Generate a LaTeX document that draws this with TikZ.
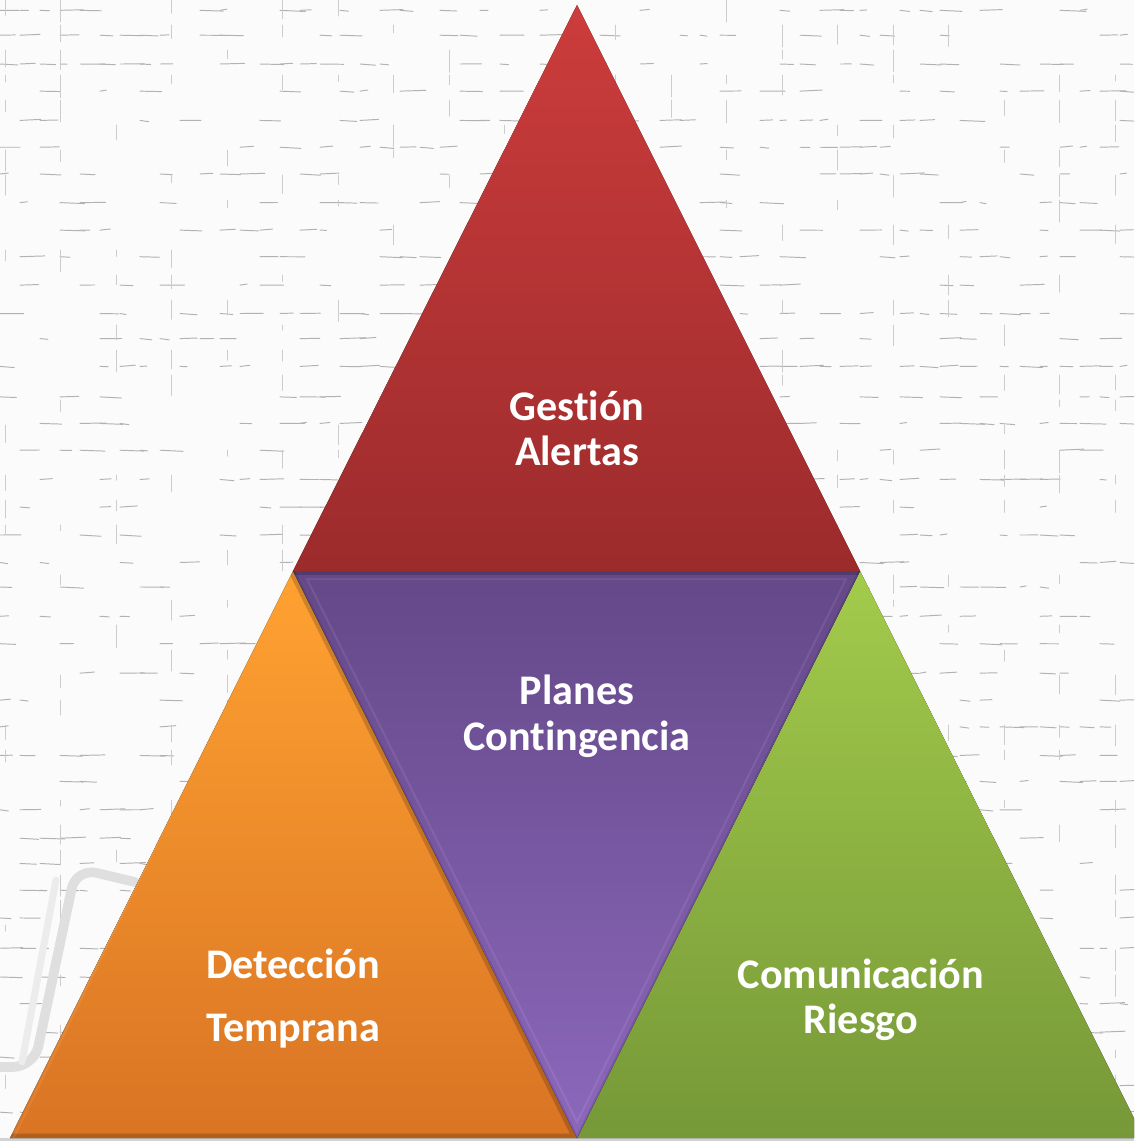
\documentclass[tikz,border=0pt]{standalone}
\usepackage{fontspec}
\setmainfont{Carlito}[Ligatures=NoCommon]
\usetikzlibrary{calc}
\begin{document}
\begin{tikzpicture}[x=0.02cm,y=-0.02cm,
  texline/.style={draw=gray!60,line width=0.55pt,line cap=round},
  texvline/.style={draw=gray!40,line width=0.45pt,line cap=round},
  label/.style={text=white,font=\fontsize{24}{28}\selectfont\bfseries,anchor=base,inner sep=0pt},
  bevel/.style={line width=5pt,draw=black,opacity=0.18},
  shine/.style={line width=1.2pt,draw=white,opacity=0.08}]
\definecolor{redtop}{HTML}{CC3C3C}
\definecolor{redbot}{HTML}{9C2B2C}
\definecolor{purtop}{HTML}{644888}
\definecolor{purbot}{HTML}{8C68BC}
\definecolor{orgtop}{HTML}{FFA231}
\definecolor{orgbot}{HTML}{D97424}
\definecolor{grntop}{HTML}{A3CB4B}
\definecolor{grnbot}{HTML}{769838}
\useasboundingbox (0,0) rectangle (1134,1141);
\clip (0,0) rectangle (1134,1141);
% paper background
\fill[white!97!gray] (0,0) rectangle (1134,1141);
\pgfmathsetseed{17}
% woven texture: broken horizontal strokes
\foreach \r in {0,...,41} {
  \pgfmathsetmacro\yy{7+27.6*\r+4*rnd}
  \foreach \c in {0,...,57} {
    \pgfmathsetmacro\p{rnd}
    \ifdim\p pt<0.45pt
      \pgfmathsetmacro\len{6+rnd*20}
      \draw[texline] (\c*20,\yy) -- ++(\len,{(rnd-0.5)*2.5});
    \fi
  }
}
% woven texture: faint vertical strokes
\foreach \k in {0,...,20} {
  \pgfmathsetmacro\xx{5+55.5*\k}
  \foreach \c in {0,...,45} {
    \pgfmathsetmacro\p{rnd}
    \ifdim\p pt<0.35pt
      \pgfmathsetmacro\len{5+rnd*18}
      \draw[texvline] (\xx,\c*25) -- ++(0,\len);
    \fi
  }
}
% faint bracket shape in the lower left
\draw[gray!25,line width=5.5pt,line cap=round,rounded corners=12] (0,1067) -- (34,1067) -- (76,868) -- (135,882);
\draw[gray!15,line width=4pt,line cap=round] (22,1062) -- (56,880);
% bottom rule
\fill[gray!35] (0,1138) rectangle (1134,1141);

% corner points of the pyramid
\coordinate (apex) at (577,5);
\coordinate (ml) at (293,571);
\coordinate (mr) at (860,571);
\coordinate (bl) at (10,1138);
\coordinate (bm) at (577,1138);
\coordinate (br) at (1144,1138);

% top triangle
\fill[top color=redtop,bottom color=redbot] (apex) -- (mr) -- (ml) -- cycle;
% left triangle
\fill[top color=orgtop,bottom color=orgbot] (ml) -- (bm) -- (bl) -- cycle;
\begin{scope}
  \clip (ml) -- (bm) -- (bl) -- cycle;
  \draw[bevel] (ml) -- (bm) -- (bl);
  \draw[shine] ([xshift=-2]ml) -- ([xshift=2]bl);
\end{scope}
% right triangle
\fill[top color=grntop,bottom color=grnbot] (mr) -- (br) -- (bm) -- cycle;
% centre (inverted) triangle
\fill[top color=purtop,bottom color=purbot] (ml) -- (mr) -- (bm) -- cycle;
\begin{scope}
  \clip (ml) -- (mr) -- (bm) -- cycle;
  \draw[bevel] (ml) -- (mr);
  \draw[line width=2pt,draw=black,opacity=0.1] (mr) -- (bm) -- (ml);
  \draw[shine] ($(ml)+(14,8)$) -- ($(mr)+(-14,8)$) -- ($(bm)+(0,-16)$) -- cycle;
\end{scope}

% labels
\node[label] (gestion) at (577,420) {Gestión};
\node[label] (alertas) at (577,465) {Alertas};
\node[label] (planes) at (577,704) {Planes};
\node[label] (contingencia) at (577,750) {Contingencia};
\node[label] (deteccion) at (293,978) {Detección};
\node[label] (temprana) at (293,1041) {Temprana};
\node[label] (comunicacion) at (861,988) {Comunicación};
\node[label] (riesgo) at (861,1033) {Riesgo};
\end{tikzpicture}
\end{document}
